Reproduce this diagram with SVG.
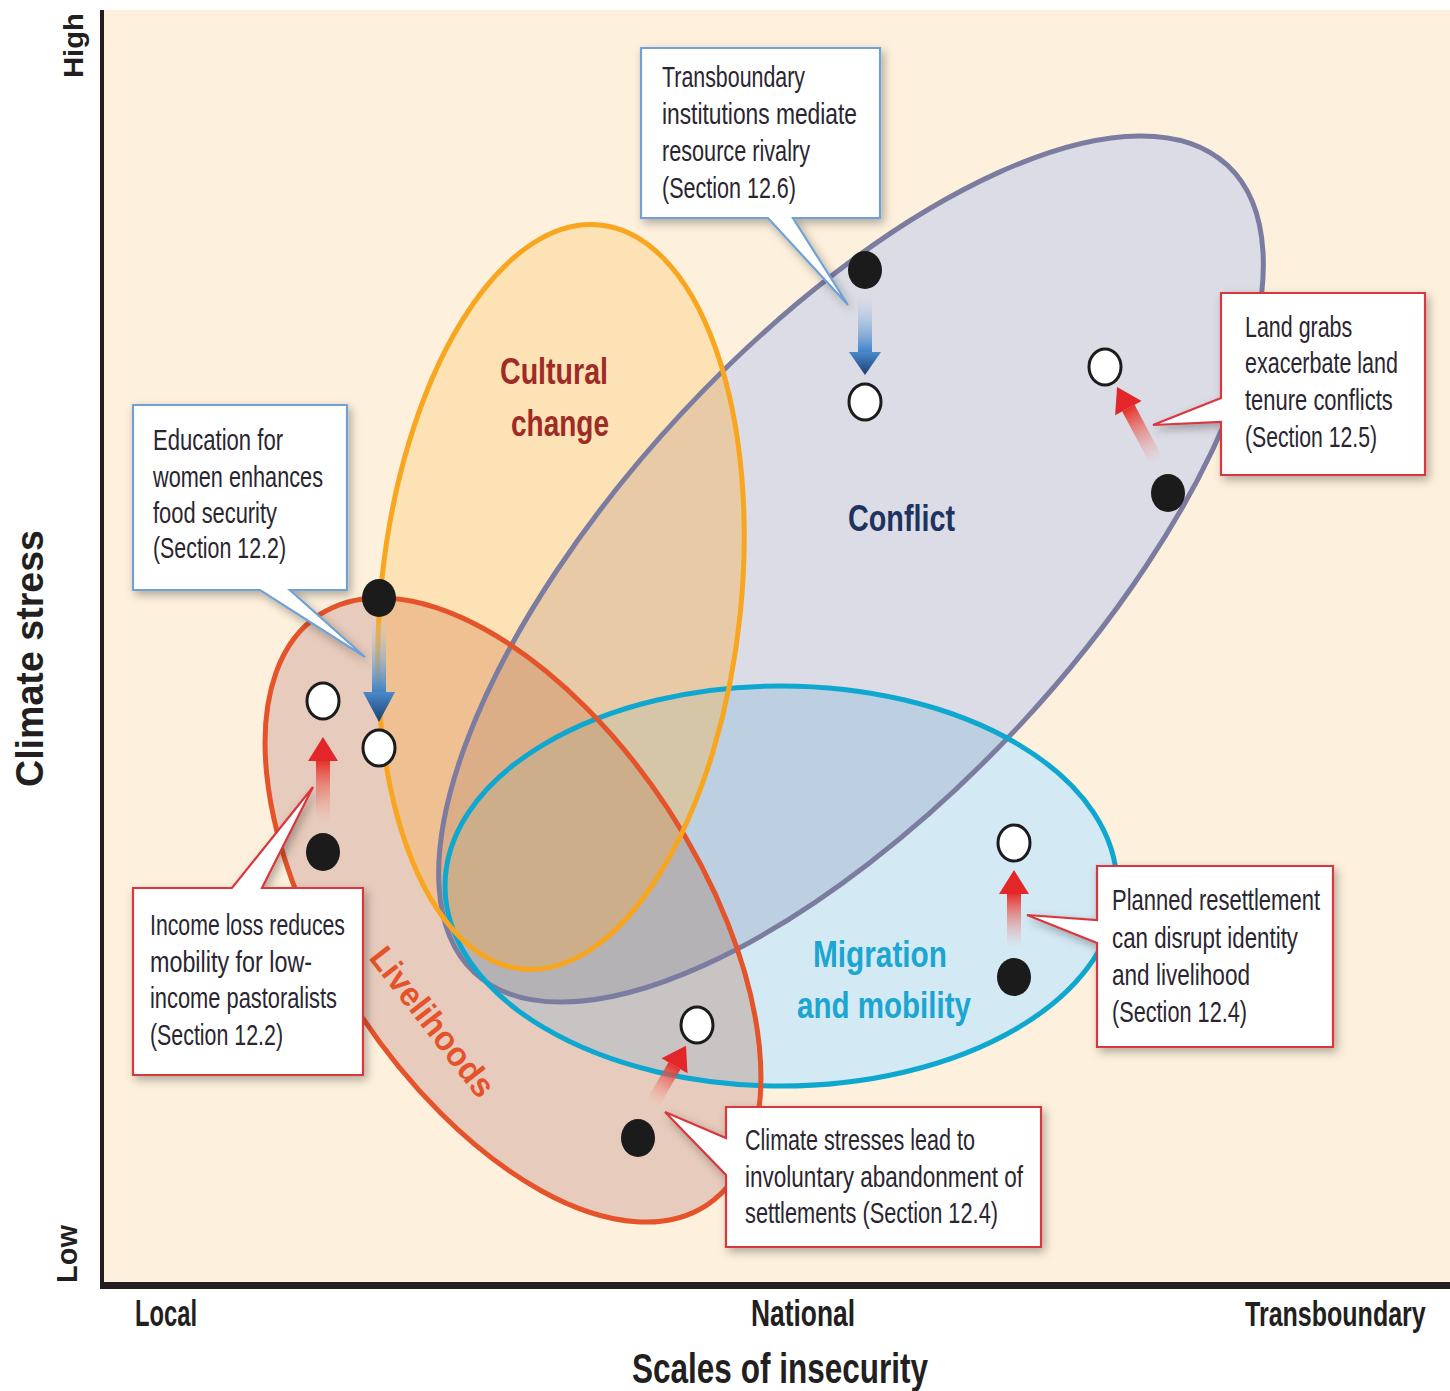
<svg xmlns="http://www.w3.org/2000/svg" width="1450" height="1391" viewBox="0 0 1450 1391">
<style>
.box{fill:#fff;stroke-width:2.2;filter:url(#sh)}
.bb{stroke:#6FA0D4}
.rb{stroke:#D8373D}
.ct{font-family:"Liberation Sans",Arial,sans-serif;font-size:30px;fill:#2A2530}
.ax{font-family:"Liberation Sans",Arial,sans-serif;font-weight:bold;fill:#231F20}
.lab{font-family:"Liberation Sans",Arial,sans-serif;font-weight:bold;font-size:36px}
.dk{fill:#1B1B1B}
.wt{fill:#fff;stroke:#1B1B1B;stroke-width:3}
.edge{fill:none;stroke-width:5}
</style>
<defs>
<ellipse id="eCo" cx="851" cy="569" rx="552" ry="230" transform="rotate(-47 851 569)"/>
<ellipse id="eCu" cx="561" cy="597" rx="180" ry="374" transform="rotate(6 561 597)"/>
<ellipse id="eL" cx="513" cy="910" rx="353" ry="185" transform="rotate(56.7 513 910)"/>
<ellipse id="eM" cx="781" cy="886" rx="336" ry="200"/>
<clipPath id="cCo"><use href="#eCo"/></clipPath>
<clipPath id="cCu"><use href="#eCu"/></clipPath>
<clipPath id="cL"><use href="#eL"/></clipPath>
<clipPath id="cM"><use href="#eM"/></clipPath>
<filter id="sh" x="-15%" y="-15%" width="140%" height="140%"><feDropShadow dx="3" dy="4" stdDeviation="5" flood-color="#000" flood-opacity="0.3"/></filter>
<linearGradient id="gRs" x1="0" y1="1" x2="0" y2="0"><stop offset="0" stop-color="#F29A90" stop-opacity="0"/><stop offset="1" stop-color="#E5322B"/></linearGradient>
<linearGradient id="gBs" x1="0" y1="1" x2="0" y2="0"><stop offset="0" stop-color="#C0D2EA" stop-opacity="0.15"/><stop offset="1" stop-color="#3F83C6"/></linearGradient>
<linearGradient id="gBh" x1="0" y1="1" x2="0" y2="0"><stop offset="0" stop-color="#4A8ACB"/><stop offset="1" stop-color="#1C3F73"/></linearGradient>
</defs>

<rect x="0" y="0" width="1450" height="1391" fill="#fff"/>
<rect id="plot" x="102" y="10" width="1348" height="1276" fill="#FDF0DC"/>

<g id="regions">
<use href="#eCo" fill="#DCDCE6"/>
<use href="#eM" fill="#D3E9F4"/>
<use href="#eL" fill="#E7CBBC"/>
<use href="#eCu" fill="#FDE2B5"/>
<g clip-path="url(#cCo)"><use href="#eM" fill="#BDD0E1"/><use href="#eL" fill="#D0B6AD"/><use href="#eCu" fill="#E8CBA6"/></g>
<g clip-path="url(#cL)"><use href="#eM" fill="#C9C4C4"/><use href="#eCu" fill="#EEC092"/></g>
<g clip-path="url(#cM)"><use href="#eCu" fill="#E0D2BC"/></g>
<g clip-path="url(#cCo)"><g clip-path="url(#cL)"><use href="#eM" fill="#B4B2B5"/><use href="#eCu" fill="#DBAE87"/></g><g clip-path="url(#cM)"><use href="#eCu" fill="#D5C6A8"/></g></g>
<g clip-path="url(#cL)"><g clip-path="url(#cM)"><use href="#eCu" fill="#D8BE9E"/></g></g>
<g clip-path="url(#cCo)"><g clip-path="url(#cL)"><g clip-path="url(#cM)"><use href="#eCu" fill="#CCAE8B"/></g></g></g>
</g>

<g id="edges">
<use href="#eCo" class="edge" stroke="#7B7CA0"/>
<use href="#eM" class="edge" stroke="#0EA7D0"/>
<use href="#eL" class="edge" stroke="#E4532A"/>
<use href="#eCu" class="edge" stroke="#F8A61F"/>
</g>

<g id="set-labels" class="lab">
<text x="500" y="384" fill="#9E2B25" textLength="108" lengthAdjust="spacingAndGlyphs">Cultural</text>
<text x="511" y="436" fill="#9E2B25" textLength="98" lengthAdjust="spacingAndGlyphs">change</text>
<text x="848" y="531" fill="#1D3461" textLength="107" lengthAdjust="spacingAndGlyphs">Conflict</text>
<text x="813" y="967" fill="#1BA5D0" textLength="134" lengthAdjust="spacingAndGlyphs">Migration</text>
<text x="797" y="1018" fill="#1BA5D0" textLength="174" lengthAdjust="spacingAndGlyphs">and mobility</text>
<text transform="translate(368,958) rotate(52)" x="0" y="0" fill="#E4532A" font-size="34" textLength="180" lengthAdjust="spacingAndGlyphs">Livelihoods</text>
</g>

<g id="connectors">
<g transform="translate(865,298) rotate(180)"><rect x="-7" y="-54" width="14" height="54" fill="url(#gBs)"/><polygon points="-16,-54 16,-54 0,-77" fill="url(#gBh)"/></g>
<g transform="translate(379,622) rotate(180)"><rect x="-7" y="-70" width="14" height="70" fill="url(#gBs)"/><polygon points="-16,-70 16,-70 0,-100" fill="url(#gBh)"/></g>
<g transform="translate(323,822)"><rect x="-7" y="-61" width="14" height="61" fill="url(#gRs)"/><polygon points="-15,-61 15,-61 0,-85" fill="#E3262A"/></g>
<g transform="translate(1014,947)"><rect x="-7" y="-53" width="14" height="53" fill="url(#gRs)"/><polygon points="-15,-53 15,-53 0,-77" fill="#E3262A"/></g>
<g transform="translate(1157,462) rotate(-28)"><rect x="-7" y="-61" width="14" height="61" fill="url(#gRs)"/><polygon points="-15,-61 15,-61 0,-85" fill="#E3262A"/></g>
<g transform="translate(653,1103) rotate(30)"><rect x="-7" y="-43" width="14" height="43" fill="url(#gRs)"/><polygon points="-15,-43 15,-43 0,-66" fill="#E3262A"/></g>
</g>

<g id="dots">
<ellipse class="dk" cx="865" cy="270" rx="17" ry="19"/>
<ellipse class="wt" cx="865" cy="402" rx="16" ry="18"/>
<ellipse class="dk" cx="379" cy="598" rx="17" ry="19"/>
<ellipse class="wt" cx="379" cy="748" rx="16" ry="18"/>
<ellipse class="wt" cx="323" cy="701" rx="16" ry="18"/>
<ellipse class="dk" cx="323" cy="852" rx="17" ry="19"/>
<ellipse class="wt" cx="1105" cy="367" rx="16" ry="18"/>
<ellipse class="dk" cx="1168" cy="493" rx="17" ry="19"/>
<ellipse class="wt" cx="1014" cy="843" rx="16" ry="18"/>
<ellipse class="dk" cx="1014" cy="977" rx="17" ry="19"/>
<ellipse class="wt" cx="697" cy="1025" rx="16" ry="18"/>
<ellipse class="dk" cx="638" cy="1138" rx="17" ry="19"/>
</g>

<g id="callout-transboundary">
<path class="box bb" d="M641,48H880V218H793L848,305L768,218H641Z"/>
<text class="ct" x="662" y="87" textLength="143" lengthAdjust="spacingAndGlyphs">Transboundary</text>
<text class="ct" x="662" y="124" textLength="195" lengthAdjust="spacingAndGlyphs">institutions mediate</text>
<text class="ct" x="662" y="161" textLength="148" lengthAdjust="spacingAndGlyphs">resource rivalry</text>
<text class="ct" x="662" y="198" textLength="134" lengthAdjust="spacingAndGlyphs">(Section 12.6)</text>
</g>

<g id="callout-education">
<path class="box bb" d="M133,405H347V590H290L365,657L260,590H133Z"/>
<text class="ct" x="153" y="450" textLength="130" lengthAdjust="spacingAndGlyphs">Education for</text>
<text class="ct" x="153" y="487" textLength="170" lengthAdjust="spacingAndGlyphs">women enhances</text>
<text class="ct" x="153" y="523" textLength="124" lengthAdjust="spacingAndGlyphs">food security</text>
<text class="ct" x="153" y="558" textLength="133" lengthAdjust="spacingAndGlyphs">(Section 12.2)</text>
</g>

<g id="callout-landgrabs">
<path class="box rb" d="M1221,293H1425V475H1221V422L1153,425L1221,398Z"/>
<g transform="translate(1245,0) scale(0.75,1)">
<text class="ct" x="0" y="337" textLength="143" lengthAdjust="spacingAndGlyphs">Land grabs</text>
<text class="ct" x="0" y="373" textLength="204" lengthAdjust="spacingAndGlyphs">exacerbate land</text>
<text class="ct" x="0" y="410" textLength="197" lengthAdjust="spacingAndGlyphs">tenure conflicts</text>
<text class="ct" x="0" y="447" textLength="176" lengthAdjust="spacingAndGlyphs">(Section 12.5)</text>
</g>
</g>

<g id="callout-income">
<path class="box rb" d="M133,888H232L313,787L262,888H363V1075H133Z"/>
<text class="ct" x="150" y="935" textLength="195" lengthAdjust="spacingAndGlyphs">Income loss reduces</text>
<text class="ct" x="150" y="972" textLength="162" lengthAdjust="spacingAndGlyphs">mobility for low-</text>
<text class="ct" x="150" y="1008" textLength="187" lengthAdjust="spacingAndGlyphs">income pastoralists</text>
<text class="ct" x="150" y="1045" textLength="133" lengthAdjust="spacingAndGlyphs">(Section 12.2)</text>
</g>

<g id="callout-resettlement">
<path class="box rb" d="M1097,866H1333V1047H1097V943L1027,915L1097,920Z"/>
<text class="ct" x="1112" y="910" textLength="208" lengthAdjust="spacingAndGlyphs">Planned resettlement</text>
<text class="ct" x="1112" y="948" textLength="186" lengthAdjust="spacingAndGlyphs">can disrupt identity</text>
<text class="ct" x="1112" y="985" textLength="138" lengthAdjust="spacingAndGlyphs">and livelihood</text>
<text class="ct" x="1112" y="1022" textLength="135" lengthAdjust="spacingAndGlyphs">(Section 12.4)</text>
</g>

<g id="callout-abandonment">
<path class="box rb" d="M726,1107H1041V1247H726V1175L665,1112L726,1138Z"/>
<text class="ct" x="745" y="1150" textLength="230" lengthAdjust="spacingAndGlyphs">Climate stresses lead to</text>
<text class="ct" x="745" y="1187" textLength="278" lengthAdjust="spacingAndGlyphs">involuntary abandonment of</text>
<text class="ct" x="745" y="1223" textLength="253" lengthAdjust="spacingAndGlyphs">settlements (Section 12.4)</text>
</g>

<g id="axes">
<line x1="102" y1="10" x2="102" y2="1289" stroke="#231F20" stroke-width="4"/>
<line x1="100" y1="1285.5" x2="1450" y2="1285.5" stroke="#231F20" stroke-width="7"/>
<text class="ax" transform="translate(83,78) rotate(-90)" font-size="28" textLength="65" lengthAdjust="spacingAndGlyphs">High</text>
<text class="ax" transform="translate(77,1283) rotate(-90)" font-size="30" textLength="58" lengthAdjust="spacingAndGlyphs">Low</text>
<text class="ax" transform="translate(43,787) rotate(-90)" font-size="38" textLength="257" lengthAdjust="spacingAndGlyphs">Climate stress</text>
<text class="ax" x="135" y="1326" font-size="36" textLength="62" lengthAdjust="spacingAndGlyphs">Local</text>
<text class="ax" x="751" y="1326" font-size="36" textLength="104" lengthAdjust="spacingAndGlyphs">National</text>
<text class="ax" transform="translate(1245,1326) scale(0.69,1)" x="0" y="0" font-size="36" textLength="262" lengthAdjust="spacingAndGlyphs">Transboundary</text>
<text class="ax" x="632" y="1383" font-size="43" textLength="296" lengthAdjust="spacingAndGlyphs">Scales of insecurity</text>
</g>
</svg>
